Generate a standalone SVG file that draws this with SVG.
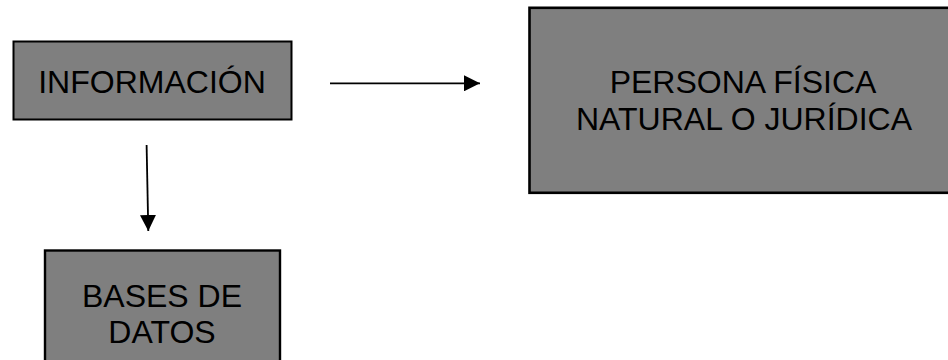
<svg xmlns="http://www.w3.org/2000/svg" width="948" height="360" viewBox="0 0 948 360">
<style>
.box{fill:#7f7f7f;stroke:#000;stroke-width:2}
.lbl{font-family:"Liberation Sans",Arial,sans-serif;font-size:32px;fill:#000;text-anchor:middle}
.conn{stroke:#000;stroke-width:1.8;fill:none}
</style>
<defs>
<marker id="arr" viewBox="0 0 10 10" refX="10" refY="5" markerUnits="userSpaceOnUse" markerWidth="16" markerHeight="16" orient="auto">
<path d="M0,0 L10,5 L0,10 Z" fill="#000"/>
</marker>
</defs>
<rect width="948" height="360" fill="#fff"/>
<g id="informacion">
<rect class="box" x="13.5" y="41.5" width="278" height="78"/>
<text class="lbl" x="152" y="92.5">INFORMACIÓN</text>
</g>
<g id="persona">
<rect class="box" x="529.5" y="7.8" width="430" height="185" style="stroke-width:2.6"/>
<text class="lbl" x="743" y="92.7">PERSONA FÍSICA</text>
<text class="lbl" x="744" y="130">NATURAL O JURÍDICA</text>
</g>
<g id="bases">
<rect class="box" x="45" y="250.5" width="235" height="130" style="stroke-width:2.4"/>
<text class="lbl" x="162" y="306.7">BASES DE</text>
<text class="lbl" x="162" y="343">DATOS</text>
</g>
<g id="connectors">
<line class="conn" x1="330" y1="83.3" x2="480" y2="83.3" marker-end="url(#arr)"/>
<line class="conn" x1="146.6" y1="145" x2="148.3" y2="231" marker-end="url(#arr)"/>
</g>
</svg>
